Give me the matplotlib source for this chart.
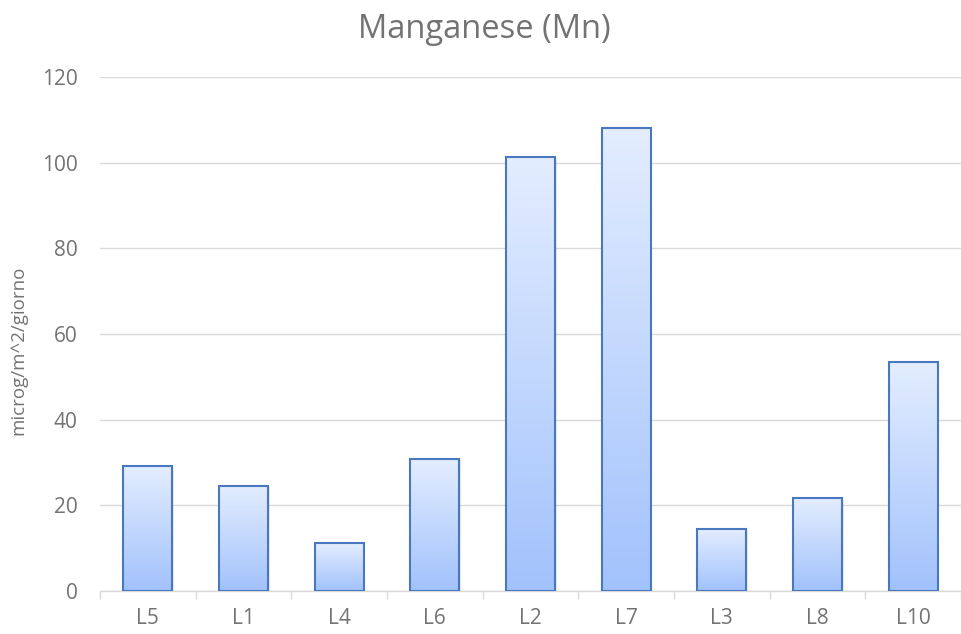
import matplotlib
matplotlib.use("Agg")
import matplotlib.pyplot as plt
import numpy as np
from matplotlib.colors import LinearSegmentedColormap

# Mn deposition per site
sites = ["L5", "L1", "L4", "L6", "L2", "L7", "L3", "L8", "L10"]
manganese = [29.3, 24.6, 11.1, 30.9, 101.4, 108.2, 14.5, 21.6, 53.4]
y_ticks = [0, 20, 40, 60, 80, 100, 120]

plt.rcParams['font.family'] = ['Open Sans', 'DejaVu Sans']
txt = "#737373"

fig = plt.figure(figsize=(9.61, 6.34), dpi=100)
ax = fig.add_axes([0.104, 0.0678, 0.896, 0.8107])

x = np.arange(len(sites))
bars = ax.bar(x, manganese, width=0.51, facecolor="none", edgecolor="#4a78c0",
              linewidth=1.5, zorder=3)

# vertical gradient inside each bar, light at top
cmap = LinearSegmentedColormap.from_list("grad", ["#a2c2fc", "#e3edff"])
grad = np.linspace(0, 1, 256).reshape(-1, 1)
for b in bars:
    x0, w, h = b.get_x(), b.get_width(), b.get_height()
    # faint shadow
    ax.add_patch(plt.Rectangle((x0 + 0.02, -0.3), w, h, facecolor="#000000",
                               alpha=0.08, edgecolor="none", zorder=2))
    ax.imshow(grad, cmap=cmap, aspect="auto", origin="lower",
              extent=(x0, x0 + w, 0, h), zorder=2.5)

ax.set_xlim(-0.5, 8.407)
ax.set_ylim(0, 120)
ax.set_yticks(y_ticks)
ax.set_xticks(x)
ax.set_xticklabels(sites)
ax.set_xticks(np.arange(-0.5, 9, 1), minor=True)

ax.grid(axis="y", color="#d9d9d9", linewidth=1, zorder=0)
for s in ["top", "right", "left"]:
    ax.spines[s].set_visible(False)
ax.spines["bottom"].set_color("#d9d9d9")
ax.spines["bottom"].set_linewidth(1)

ax.tick_params(axis="y", length=0, pad=16, labelsize=15, labelcolor=txt)
ax.tick_params(axis="x", which="major", length=0, pad=12, labelsize=15, labelcolor=txt)
ax.tick_params(axis="x", which="minor", length=6, color="#d9d9d9", width=1)

fig.text(18 / 961, 1 - 350 / 634, "microg/m^2/giorno", rotation=90,
         ha="center", va="center", fontsize=13.5, color=txt)
fig.text(484 / 961, 1 - 38 / 634, "Manganese (Mn)", ha="center", va="baseline",
         fontsize=23.5, color=txt)

fig.savefig("out.png", dpi=100)
